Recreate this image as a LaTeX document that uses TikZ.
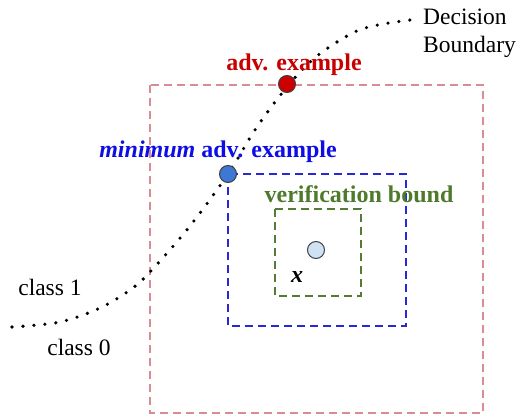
\documentclass[tikz,border=0pt]{standalone}
\usepackage{fontspec}
\setmainfont{Liberation Serif}
\definecolor{outerred}{RGB}{218,140,150}
\definecolor{boxblue}{RGB}{40,40,214}
\definecolor{boxgreen}{RGB}{84,124,52}
\definecolor{advred}{RGB}{200,0,0}
\definecolor{minblue}{RGB}{14,14,228}
\definecolor{labgreen}{RGB}{78,122,44}
\definecolor{ptred}{RGB}{204,0,0}
\definecolor{ptblue}{RGB}{62,120,212}
\definecolor{ptlight}{RGB}{207,226,243}
\tikzset{
  region/.style={line width=2.2pt, dash pattern=on 8pt off 5pt},
  boundary/.style={line width=3.6pt, line cap=round, dash pattern=on 0pt off 11pt},
  point/.style={circle, draw=black!75, line width=1pt, minimum size=17pt, inner sep=0pt},
  lab/.style={font=\fontsize{23.5}{28}\selectfont, inner sep=0pt, anchor=base},
  boldlab/.style={lab, font=\fontsize{24}{28}\selectfont\bfseries},
}
\begin{document}
\begin{tikzpicture}[x=1pt,y=-1pt]
\useasboundingbox (0,0) rectangle (522,415);

% perturbation regions
\draw[region, outerred] (150,85) rectangle (483,413);
\draw[region, boxblue] (228,174) rectangle (406,326);
\draw[region, boxgreen] (275,209) rectangle (361,296);

% decision boundary
\draw[boundary] plot[smooth, tension=0.55] coordinates {
  (12,327) (60,322) (100,308) (130,290) (150,272) (190,226) (228,174)
  (253,133) (275,102) (299,73) (317,56) (337,42) (359,30) (383,24) (410,20)};

% points
\node[point, fill=ptred] (adv) at (287,84) {};
\node[point, fill=ptblue] (minadv) at (228,174) {};
\node[point, fill=ptlight] (x) at (316,250) {};

% labels
\node[boldlab, text=advred] (advlab) at (294,70) {adv. example};
\node[boldlab, text=minblue] (minlab) at (218,157) {\textit{minimum} adv. example};
\node[boldlab, text=labgreen] (verlab) at (359,202) {verification bound};
\node[boldlab, font=\fontsize{24}{28}\selectfont\bfseries\itshape] (xlab) at (297,282) {x};
\node[lab] (c1) at (50,295) {class 1};
\node[lab] (c0) at (79,355) {class 0};
\node[lab, anchor=base west] (db) at (423,24) {Decision};
\node[lab, anchor=base west] (db2) at (423,52) {Boundary};
\end{tikzpicture}
\end{document}
